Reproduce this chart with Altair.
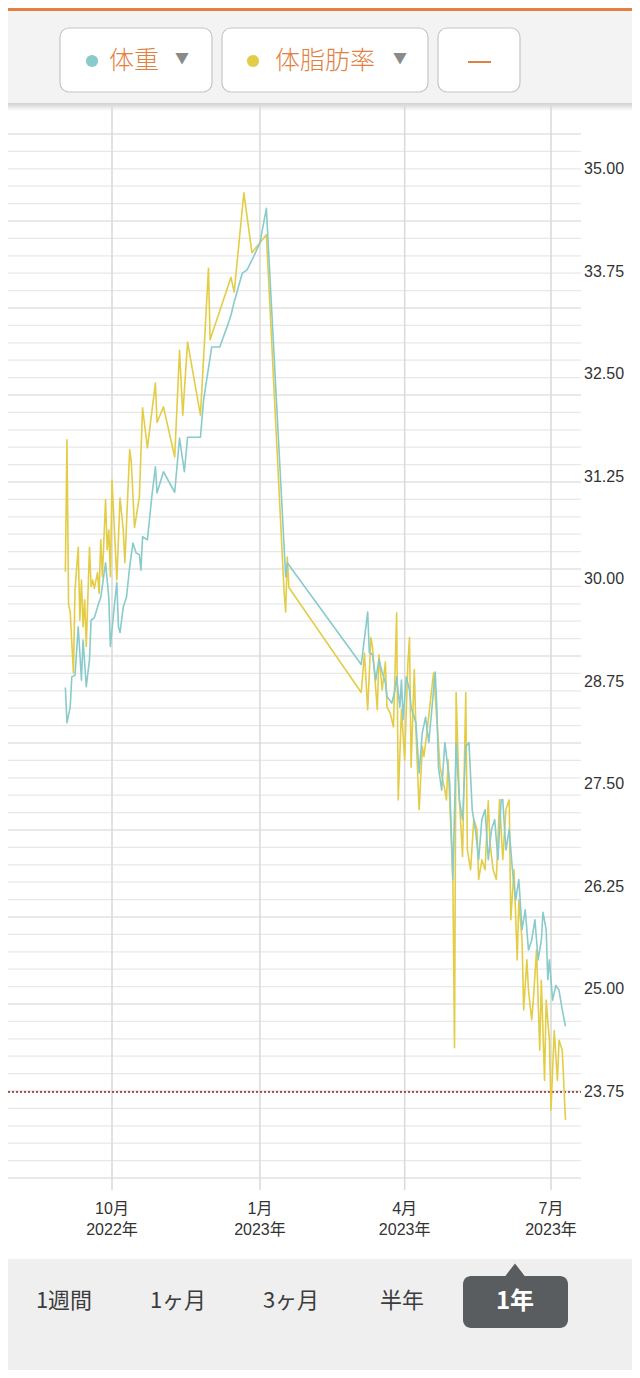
import altair as alt
import pandas as pd

# ---------------- data ----------------
fat_dates = [
    "2022-09-02", "2022-09-03", "2022-09-04", "2022-09-05", "2022-09-07", "2022-09-08", "2022-09-10",
    "2022-09-11", "2022-09-12", "2022-09-13", "2022-09-14", "2022-09-15", "2022-09-17", "2022-09-18",
    "2022-09-19", "2022-09-20", "2022-09-22", "2022-09-23", "2022-09-24", "2022-09-25", "2022-09-27",
    "2022-09-28", "2022-09-29", "2022-09-30", "2022-10-01", "2022-10-04", "2022-10-06", "2022-10-08",
    "2022-10-09", "2022-10-12", "2022-10-13", "2022-10-15", "2022-10-17", "2022-10-18", "2022-10-20",
    "2022-10-23", "2022-10-28", "2022-10-29", "2022-11-02", "2022-11-09", "2022-11-12", "2022-11-14",
    "2022-11-17", "2022-11-25", "2022-11-30", "2022-12-01", "2022-12-14", "2022-12-16", "2022-12-22",
    "2022-12-27", "2023-01-05", "2023-01-16", "2023-01-17", "2023-01-18", "2023-01-19",
    "2023-03-05", "2023-03-07", "2023-03-09", "2023-03-11", "2023-03-12", "2023-03-15", "2023-03-16",
    "2023-03-18", "2023-03-20", "2023-03-21", "2023-03-23", "2023-03-25", "2023-03-26", "2023-03-27",
    "2023-03-28", "2023-03-30", "2023-04-01", "2023-04-03", "2023-04-04", "2023-04-05", "2023-04-07",
    "2023-04-08", "2023-04-10", "2023-04-12", "2023-04-13", "2023-04-15", "2023-04-18", "2023-04-19",
    "2023-04-21", "2023-04-23", "2023-04-26", "2023-04-27", "2023-04-28", "2023-04-30", "2023-05-01",
    "2023-05-02", "2023-05-03", "2023-05-05", "2023-05-07", "2023-05-09", "2023-05-10", "2023-05-12",
    "2023-05-14", "2023-05-16", "2023-05-17", "2023-05-19", "2023-05-21", "2023-05-23", "2023-05-24",
    "2023-05-26", "2023-05-28", "2023-05-30", "2023-06-01", "2023-06-03", "2023-06-05", "2023-06-06",
    "2023-06-08", "2023-06-10", "2023-06-11", "2023-06-13", "2023-06-14", "2023-06-16", "2023-06-17",
    "2023-06-19", "2023-06-20", "2023-06-22", "2023-06-24", "2023-06-25", "2023-06-27", "2023-06-28",
    "2023-06-30", "2023-07-01", "2023-07-03", "2023-07-05", "2023-07-06", "2023-07-08", "2023-07-10",
]
fat_values = [
    30.09, 31.70, 29.69, 29.60, 28.86, 29.87, 30.39,
    29.50, 29.99, 29.42, 29.75, 29.18, 30.39, 29.91,
    29.99, 29.89, 30.08, 29.83, 30.48, 30.03, 30.97,
    30.36, 30.60, 30.03, 31.21, 29.99, 30.99, 30.60,
    30.20, 31.58, 31.43, 30.63, 30.88, 31.00, 32.09,
    31.60, 32.39, 31.91, 32.10, 31.49, 32.79, 32.00,
    32.89, 32.00, 33.79, 32.92, 33.68, 33.50, 34.71,
    33.98, 34.20, 29.85, 29.60, 30.27, 29.90,
    28.62, 29.10, 28.41, 29.29, 29.17, 28.41, 29.08,
    28.65, 28.99, 28.44, 28.37, 28.20, 28.86, 29.59,
    27.31, 28.41, 27.80, 28.98, 29.29, 27.71, 28.90,
    28.16, 27.19, 27.96, 27.84, 28.16, 28.69, 28.86,
    28.29, 27.71, 27.43, 27.31, 27.80, 26.82, 26.30,
    24.29, 28.62, 27.31, 26.62, 28.62, 26.70, 26.46,
    27.07, 26.95, 26.34, 26.58, 26.46, 27.30, 26.80,
    26.46, 26.34, 27.31, 26.58, 27.20, 27.31, 25.85,
    26.46, 25.36, 26.09, 25.60, 24.75, 25.36, 24.99,
    24.63, 24.87, 25.48, 24.26, 25.11, 23.89, 24.87,
    24.38, 23.53, 24.50, 23.89, 24.38, 24.26, 23.41,
]

weight_dates = [
    "2022-09-02", "2022-09-03", "2022-09-05", "2022-09-06", "2022-09-08", "2022-09-10", "2022-09-11",
    "2022-09-12", "2022-09-13", "2022-09-15", "2022-09-17", "2022-09-18", "2022-09-20", "2022-09-22",
    "2022-09-24", "2022-09-27", "2022-09-29", "2022-09-30", "2022-10-02", "2022-10-04", "2022-10-05",
    "2022-10-06", "2022-10-08", "2022-10-10", "2022-10-12", "2022-10-14", "2022-10-16", "2022-10-18",
    "2022-10-19", "2022-10-20", "2022-10-23", "2022-10-26", "2022-10-28", "2022-10-29", "2022-11-02",
    "2022-11-09", "2022-11-12", "2022-11-15", "2022-11-17", "2022-11-25", "2022-11-27", "2022-12-02",
    "2022-12-07", "2022-12-12", "2022-12-14", "2022-12-16", "2022-12-21", "2022-12-24", "2022-12-28",
    "2023-01-01", "2023-01-05", "2023-01-17", "2023-01-18",
    "2023-03-05", "2023-03-09", "2023-03-10", "2023-03-12", "2023-03-14", "2023-03-16", "2023-03-18",
    "2023-03-20", "2023-03-21", "2023-03-24", "2023-03-26", "2023-03-27", "2023-03-29", "2023-03-30",
    "2023-03-31", "2023-04-02", "2023-04-04", "2023-04-05", "2023-04-08", "2023-04-10", "2023-04-12",
    "2023-04-14", "2023-04-16", "2023-04-18", "2023-04-20", "2023-04-21", "2023-04-22", "2023-04-24",
    "2023-04-26", "2023-04-29", "2023-05-01", "2023-05-03", "2023-05-05", "2023-05-07", "2023-05-09",
    "2023-05-11", "2023-05-13", "2023-05-15", "2023-05-17", "2023-05-19", "2023-05-21", "2023-05-23",
    "2023-05-25", "2023-05-27", "2023-05-29", "2023-05-31", "2023-06-01", "2023-06-03", "2023-06-05",
    "2023-06-07", "2023-06-09", "2023-06-11", "2023-06-13", "2023-06-15", "2023-06-17", "2023-06-19",
    "2023-06-21", "2023-06-23", "2023-06-25", "2023-06-26", "2023-06-28", "2023-06-29", "2023-06-30",
    "2023-07-02", "2023-07-04", "2023-07-06", "2023-07-08", "2023-07-10",
]
weight_values = [
    28.68, 28.25, 28.44, 28.81, 28.83, 29.42, 29.10,
    28.77, 29.26, 28.69, 29.02, 29.50, 29.53, 29.66,
    29.78, 30.20, 29.78, 29.18, 29.59, 29.96, 29.42,
    29.35, 29.66, 29.78, 30.15, 30.44, 30.32, 30.30,
    30.11, 30.52, 30.48, 31.05, 31.37, 31.05, 31.31,
    31.06, 31.72, 31.31, 31.73, 31.73, 32.19, 32.83,
    32.83, 33.10, 33.22, 33.38, 33.73, 33.77, 33.93,
    34.10, 34.52, 30.03, 30.20,
    28.96, 29.60, 29.11, 29.08, 28.77, 29.02, 28.87,
    28.74, 28.57, 28.49, 28.65, 28.81, 28.44, 28.77,
    28.29, 28.81, 28.65, 28.44, 28.25, 27.64, 28.13,
    28.32, 28.01, 28.44, 28.87, 28.44, 27.71, 27.43,
    28.01, 27.52, 26.34, 28.01, 27.31, 27.07, 27.96,
    28.01, 27.19, 26.95, 26.58, 27.07, 27.19, 26.58,
    26.95, 27.07, 26.58, 27.31, 27.31, 26.70, 26.95,
    26.46, 26.09, 26.34, 25.73, 25.97, 25.48, 25.60,
    25.85, 25.36, 25.60, 25.94, 25.73, 25.12, 25.36,
    24.87, 25.05, 24.99, 24.75, 24.55,
]

series_names = ["体重", "体脂肪率"]
y_tick_values = [23.75, 25.00, 26.25, 27.50, 28.75, 30.00, 31.25, 32.50, 33.75, 35.00]
y_tick_labels = ["23.75", "25.00", "26.25", "27.50", "28.75", "30.00", "31.25", "32.50", "33.75", "35.00"]
month_ticks = ["2022-10-01", "2023-01-01", "2023-04-01", "2023-07-01"]
month_labels = ["10月", "1月", "4月", "7月"]
year_labels = ["2022年", "2023年", "2023年", "2023年"]
goal_values = [23.75]
grid_index = list(range(61))
period_labels = ["1週間", "1ヶ月", "3ヶ月", "半年", "1年"]

# ---------------- style ----------------
W, H = 624, 1362
TEAL = "#89cbcb"
YELLOW = "#e4cd46"
ORANGE = "#e2803f"
JP = "Noto Sans CJK JP"
NUM = "Liberation Sans, Noto Sans CJK JP"

xscale = alt.Scale(
    type="utc",
    domain=[alt.DateTime(year=2022, month=10, date=1, utc=True),
            alt.DateTime(year=2023, month=7, date=1, utc=True)],
    range=[104, 543], nice=False,
)
yscale = alt.Scale(domain=[23.75, 35.0], range=[1084, 161], nice=False, zero=False)
gscale = alt.Scale(domain=[0, 60], range=[126, 1170], nice=False, zero=False)

one = pd.DataFrame({"k": [0]})


def ui_rect(x, x2, y, y2, **kw):
    return alt.Chart(one).mark_rect(**kw).encode(
        x=alt.value(x), x2=alt.value(x2), y=alt.value(y), y2=alt.value(y2))


def ui_text(txt, x, y, **kw):
    return alt.Chart(one).mark_text(text=txt, **kw).encode(x=alt.value(x), y=alt.value(y))


layers = []

# header
layers.append(ui_rect(0, W, 0, 3, fill=ORANGE))
layers.append(ui_rect(0, W, 3, 96, fill="#f3f3f3"))
shadow = alt.Gradient(
    gradient="linear",
    stops=[alt.GradientStop(color="#cfcfcf", offset=0), alt.GradientStop(color="#ffffff", offset=1)],
    x1=0, x2=0, y1=0, y2=1,
)
layers.append(ui_rect(0, W, 95, 103, fill=shadow))
for bx, bx2 in [(52, 204), (214, 420), (430, 512)]:
    layers.append(ui_rect(bx, bx2, 20, 84, fill="#ffffff", stroke="#c6c6c6",
                          strokeWidth=1.2, cornerRadius=9))
layers.append(alt.Chart(one).mark_circle(size=150, opacity=1, color=TEAL).encode(
    x=alt.value(84), y=alt.value(53)))
layers.append(alt.Chart(one).mark_circle(size=150, opacity=1, color=YELLOW).encode(
    x=alt.value(245), y=alt.value(53)))
layers.append(ui_text(series_names[0], 126, 53, font=JP, fontSize=25, fontWeight=300, color=ORANGE,
                      align="center", baseline="middle"))
layers.append(ui_text(series_names[1], 317, 53, font=JP, fontSize=25, fontWeight=300, color=ORANGE,
                      align="center", baseline="middle"))
layers.append(ui_text("▼", 174, 51, font=JP, fontSize=14, color="#8a8a8a",
                      align="center", baseline="middle"))
layers.append(ui_text("▼", 392, 51, font=JP, fontSize=14, color="#8a8a8a",
                      align="center", baseline="middle"))
layers.append(alt.Chart(one).mark_rule(color=ORANGE, strokeWidth=2).encode(
    x=alt.value(460), x2=alt.value(483), y=alt.value(54)))

# horizontal grid
grid_df = pd.DataFrame({"g": grid_index})
layers.append(alt.Chart(grid_df).mark_rule(strokeWidth=1.2).encode(
    y=alt.Y("g:Q", scale=gscale, axis=None),
    x=alt.value(0), x2=alt.value(573),
    color=alt.condition("datum.g % 5 === 0", alt.value("#d3d3d3"), alt.value("#e8e8e8")),
))

# vertical month lines
month_df = pd.DataFrame({"date": month_ticks, "m": month_labels, "yr": year_labels})
layers.append(alt.Chart(month_df).mark_rule(color="#d9d9d9", strokeWidth=1.5).encode(
    x=alt.X("date:T", scale=xscale, axis=None),
    y=alt.value(98), y2=alt.value(1182),
))

# goal line
goal_df = pd.DataFrame({"v": goal_values})
layers.append(alt.Chart(goal_df).mark_rule(color="#8e1f1b", strokeDash=[2, 2], strokeWidth=1.4).encode(
    y=alt.Y("v:Q", scale=yscale, axis=None),
    x=alt.value(0), x2=alt.value(573),
))

# series
fat_df = pd.DataFrame({"date": fat_dates, "value": fat_values, "series": series_names[1]})
wt_df = pd.DataFrame({"date": weight_dates, "value": weight_values, "series": series_names[0]})
color_scale = alt.Scale(domain=series_names, range=[TEAL, YELLOW])
for df in (fat_df, wt_df):
    layers.append(alt.Chart(df).mark_line(strokeWidth=1.6, strokeJoin="round").encode(
        x=alt.X("date:T", scale=xscale, axis=None),
        y=alt.Y("value:Q", scale=yscale, axis=None),
        color=alt.Color("series:N", scale=color_scale, legend=None),
    ))

# y labels (right)
ylab_df = pd.DataFrame({"v": y_tick_values, "lab": y_tick_labels})
layers.append(alt.Chart(ylab_df).mark_text(align="left", baseline="middle", font=NUM,
                                           fontSize=16, color="#333333").encode(
    y=alt.Y("v:Q", scale=yscale, axis=None),
    x=alt.value(576),
    text="lab:N",
))

# x labels (two lines)
layers.append(alt.Chart(month_df).mark_text(align="center", baseline="middle", font=NUM,
                                            fontSize=16, color="#333333").encode(
    x=alt.X("date:T", scale=xscale, axis=None), y=alt.value(1201), text="m:N"))
layers.append(alt.Chart(month_df).mark_text(align="center", baseline="middle", font=NUM,
                                            fontSize=16, color="#333333").encode(
    x=alt.X("date:T", scale=xscale, axis=None), y=alt.value(1222), text="yr:N"))

# footer
layers.append(ui_rect(0, W, 1251, H, fill="#efefef"))
for lab, cx in zip(period_labels[:4], [56, 170, 283, 394]):
    layers.append(ui_text(lab, cx, 1293, font=JP, fontSize=22, color="#3c3c3c",
                          align="center", baseline="middle"))
layers.append(alt.Chart(one).mark_point(shape="M-1,0.7L0,-0.6L1,0.7Z", size=484, filled=True,
                                        opacity=1, color="#5a5d60").encode(
    x=alt.value(507), y=alt.value(1262)))
layers.append(ui_rect(455, 560, 1268, 1320, fill="#5a5d60", cornerRadius=8))
layers.append(ui_text(period_labels[4], 507, 1294, font=JP, fontSize=24, fontWeight="bold",
                      color="#ffffff", align="center", baseline="middle"))

chart = alt.layer(*layers).resolve_scale(y="independent").properties(
    width=W, height=H, autosize=alt.AutoSizeParams(type="none"), padding=0,
).configure_view(strokeWidth=0)

chart.save("out.html", embed_options={"renderer": "svg", "actions": False})
